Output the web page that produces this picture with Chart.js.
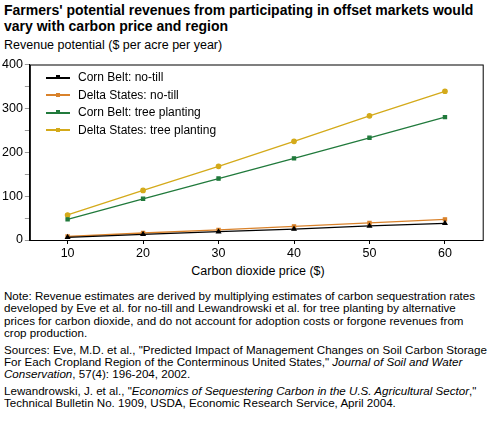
<!DOCTYPE html>
<html>
<head>
<script src="https://cdn.jsdelivr.net/npm/chart.js@4"></script>
<style>
  body { margin: 0; width: 492px; height: 428px; font-family: "Liberation Sans", Arial, sans-serif; background: #fff; position: relative; overflow: hidden; }
  #title { position: absolute; left: 4px; top: 2px; font-weight: bold; font-size: 14px; line-height: 16px; color: #000; }
  #ylab { position: absolute; left: 4px; top: 38px; font-size: 12.5px; }
  #wrap { position: absolute; left: 0; top: 55px; width: 488px; height: 208px; }
  #xlab { position: absolute; left: 0; width: 516px; text-align: center; top: 264px; font-size: 12.5px; }
  #legend { position: absolute; left: 46px; top: 69px; font-size: 12px; line-height: 17.5px; }
  #legend div { display: flex; align-items: center; }
  #legend span.sw { position: relative; width: 24px; height: 2px; margin-right: 8px; }
  #legend span.sw i { position: absolute; left: 10px; top: -1.5px; width: 4px; height: 4px; }
  #notes { position: absolute; left: 4px; top: 290px; font-size: 11.6px; line-height: 12.4px; width: 484px; }
  #notes p { margin: 0 0 4px 0; }
</style>
</head>
<body>
<div id="title">Farmers' potential revenues from participating in offset markets would<br>vary with carbon price and region</div>
<div id="ylab">Revenue potential ($ per acre per year)</div>
<div id="wrap"><canvas id="c"></canvas></div>
<div id="legend"></div>
<div id="xlab">Carbon dioxide price ($)</div>
<div id="notes">
<p>Note: Revenue estimates are derived by multiplying estimates of carbon sequestration rates developed by Eve et al. for no-till and Lewandrowski et al. for tree planting by alterna&shy;tive prices for carbon dioxide, and do not account for adoption costs or forgone revenues from crop production.</p>
<p>Sources: Eve, M.D. et al., "Predicted Impact of Management Changes on Soil Carbon Storage For Each Cropland Region of the Conterminous United States," <i>Journal of Soil and Water Conservation</i>, 57(4): 196-204, 2002.</p>
<p>Lewandrowski, J. et al., "<i>Economics of Sequestering Carbon in the U.S. Agricultural Sector</i>," Technical Bulletin No. 1909, USDA, Economic Research Service, April 2004.</p>
</div>
<script>
const prices = [10, 20, 30, 40, 50, 60];
const cornNoTill = [6, 13, 19, 25, 32, 38];
const deltaNoTill = [8, 16, 23, 31, 39, 47];
const cornTree = [47, 94, 140, 186, 233, 280];
const deltaTree = [57, 113, 168, 225, 283, 339];
const xTicks = [10, 20, 30, 40, 50, 60];

const series = [
  { label: 'Corn Belt: no-till', data: cornNoTill, color: '#000000', style: 'triangle' },
  { label: 'Delta States: no-till', data: deltaNoTill, color: '#d9822b', style: 'rect' },
  { label: 'Corn Belt: tree planting', data: cornTree, color: '#217a3c', style: 'rect' },
  { label: 'Delta States: tree planting', data: deltaTree, color: '#d4aa1a', style: 'circle' }
];

const leg = document.getElementById('legend');
series.forEach(s => {
  const d = document.createElement('div');
  d.innerHTML = `<span class="sw" style="background:${s.color}"><i style="background:${s.color}"></i></span>${s.label}`;
  leg.appendChild(d);
});

const boxPlugin = {
  id: 'box',
  afterDraw(chart) {
    const a = chart.chartArea, ctx = chart.ctx;
    ctx.save(); ctx.strokeStyle = '#000'; ctx.lineWidth = 1;
    ctx.strokeRect(a.left + 0.5, a.top + 0.5, a.right - a.left, a.bottom - a.top);
    ctx.restore();
  }
};

new Chart(document.getElementById('c'), {
  type: 'line',
  data: {
    datasets: series.map(s => ({
      label: s.label,
      data: prices.map((p, i) => ({ x: p, y: s.data[i] })),
      borderColor: s.color, backgroundColor: s.color,
      borderWidth: 1.3, pointStyle: s.style, pointRadius: 2.2, tension: 0
    }))
  },
  options: {
    responsive: true, maintainAspectRatio: false, animation: false,
    layout: { padding: { top: 8, right: 4 } },
    plugins: { legend: { display: false }, tooltip: { enabled: false } },
    scales: {
      x: {
        type: 'linear', min: 5, max: 65,
        afterBuildTicks: s => { s.ticks = xTicks.map(v => ({ value: v })); },
        grid: { drawOnChartArea: false, tickLength: 4, color: '#000' },
        border: { color: '#000' },
        ticks: { color: '#000', font: { size: 12.5, family: 'Liberation Sans' }, padding: 2 }
      },
      y: {
        min: 0, max: 400,
        ticks: { stepSize: 50, color: '#000', font: { size: 12.5, family: 'Liberation Sans' }, padding: 2,
          callback: v => v % 100 === 0 ? v : '' },
        grid: { drawOnChartArea: false, tickLength: 5, color: '#999' },
        border: { color: '#000' }
      }
    }
  },
  plugins: [boxPlugin]
});
</script>
</body>
</html>
